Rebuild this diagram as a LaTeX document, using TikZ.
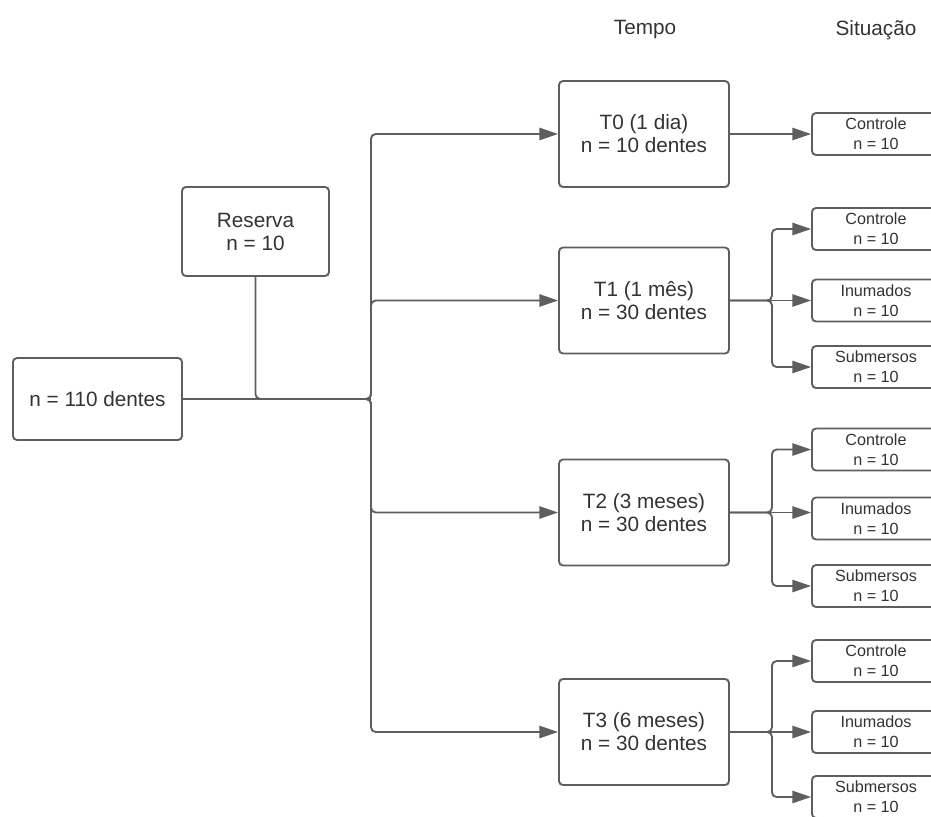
\documentclass[tikz,border=0pt]{standalone}
\usepackage{fontspec}
\setmainfont{Liberation Sans}
\usepackage{tikz}
\usetikzlibrary{arrows.meta}
\definecolor{edge}{HTML}{5E5E5E}
\definecolor{ink}{HTML}{333333}

\tikzset{
  box/.style={draw=edge,line width=1.6pt,rounded corners=3.4pt,fill=white,
    align=center,text=ink,inner sep=0pt,font=\fontsize{17.7}{19.6}\selectfont},
  tbox/.style={box,minimum width=5.1cm,minimum height=3.18cm},
  subbox/.style={box,minimum width=3.84cm,minimum height=1.26cm,
    font=\fontsize{13.8}{17.2}\selectfont},
  header/.style={text=ink,font=\fontsize{17.7}{19.6}\selectfont},
  plain/.style={draw=edge,line width=1.6pt,rounded corners=4pt},
  link/.style={plain,-{Triangle[length=16pt,width=10.5pt]}}
}

\begin{document}
\begin{tikzpicture}[x=0.03cm,y=-0.03cm]
  \useasboundingbox (0,0) rectangle (931,816);
  % column titles
  \node[header] (tempo) at (645,30) {Tempo};
  \node[header] (situacao) at (876,30) {Situação};
  % sample and reserve
  \node[box,minimum width=5.07cm,minimum height=2.46cm] (total) at (97.5,399) {n = 110 dentes};
  \node[box,minimum width=4.41cm,minimum height=2.67cm] (reserva) at (255.5,231.5) {Reserva\\n = 10};
  \coordinate (split) at (371,399);
  % time groups
  \foreach \t/\y/\lab/\cnt in {0/134/1 dia/10,1/300.5/1 mês/30,2/512.5/3 meses/30,3/732/6 meses/30}
    \node[tbox] (T\t) at (644,\y) {T\t{} (\lab)\\n = \cnt{} dentes};
  % situations
  \node[subbox] (c0) at (876,134) {Controle\\n = 10};
  \foreach \t/\yc/\yi/\ys in {1/229/300.5/367,2/449.5/518.5/586,3/661/732/797} {
    \node[subbox] (c\t) at (876,\yc) {Controle\\n = 10};
    \node[subbox] (i\t) at (876,\yi) {Inumados\\n = 10};
    \node[subbox] (s\t) at (876,\ys) {Submersos\\n = 10};
  }
  % connectors
  \draw[plain] (reserva.south) |- (split);
  \foreach \t in {0,...,3}
    \draw[link] (total.east) -- (split) |- (T\t.west);
  \draw[link] (T0.east) -- (c0.west |- T0.east);
  \foreach \t in {1,2,3} {
    \draw[link] (T\t.east) -- ++(42,0) |- (c\t.west);
    \draw[link] (T\t.east) -- (i\t.west |- T\t.east);
    \draw[link] (T\t.east) -- ++(42,0) |- (s\t.west);
  }
\end{tikzpicture}
\end{document}
